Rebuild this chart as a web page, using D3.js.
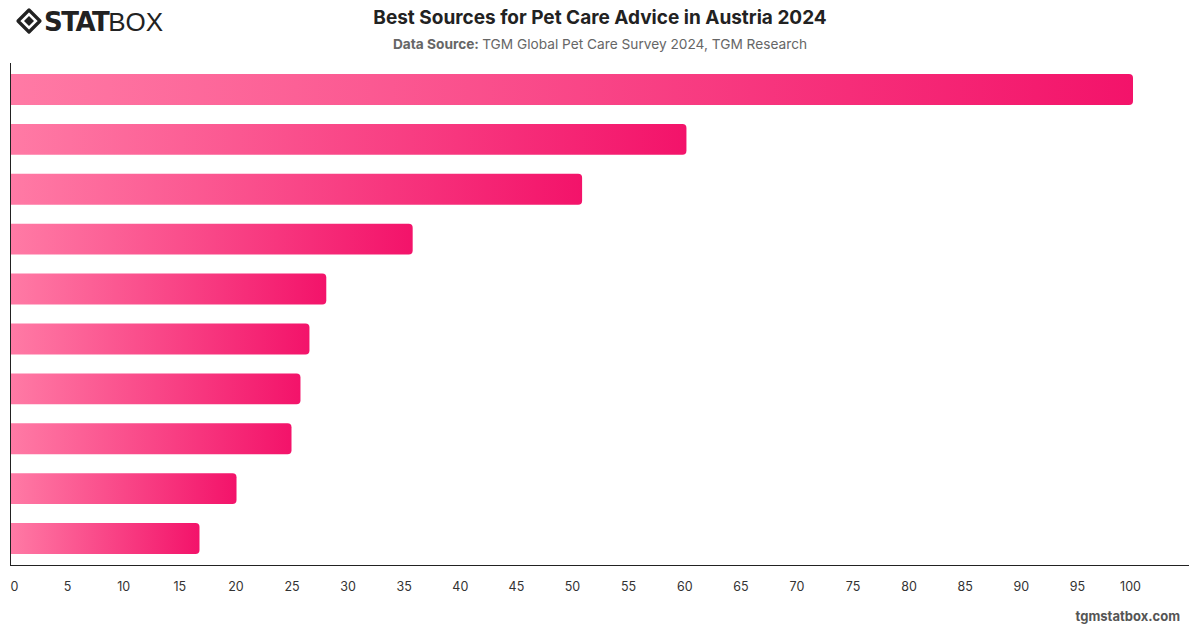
<!DOCTYPE html>
<html>
<head>
<meta charset="utf-8">
<script src="https://cdn.jsdelivr.net/npm/d3@7"></script>
<style>
  html, body { margin: 0; padding: 0; background: #fff; }
  svg { display: block; font-family: Inter, "Noto Sans", sans-serif; }
</style>
</head>
<body>
<svg id="chart" width="1200" height="628"></svg>
<script>
// Datos (las categorías no se muestran en la referencia)
const categories = [
  "Veterinarian", "Pet store staff", "Family and friends", "Websites",
  "Breeders", "Social media", "Pet magazines", "Online forums",
  "Animal shelters", "Other"
];
const values = [100, 60.2, 50.9, 35.8, 28.1, 26.6, 25.8, 25.0, 20.1, 16.8];
const tickValues = [0, 5, 10, 15, 20, 25, 30, 35, 40, 45, 50, 55, 60, 65, 70, 75, 80, 85, 90, 95, 100];

const width = 1200, height = 628;
const margin = { top: 63, right: 11, bottom: 63, left: 11 };

const svg = d3.select('#chart');

// Degradado de las barras
const defs = svg.append('defs');
const grad = defs.append('linearGradient')
  .attr('id', 'barGrad')
  .attr('x1', '0%').attr('x2', '100%').attr('y1', '0%').attr('y2', '0%');
grad.append('stop').attr('offset', '0%').attr('stop-color', '#ff7aa5');
grad.append('stop').attr('offset', '100%').attr('stop-color', '#f3136a');

const x = d3.scaleLinear()
  .domain([0, 100])
  .range([margin.left, 1133]);

const y = d3.scaleBand()
  .domain(categories)
  .range([margin.top, height - margin.bottom])
  .paddingInner(0.38)
  .paddingOuter(0.22);

// BARRAS (esquinas redondeadas solo a la derecha)
const r = 4;
svg.append('g')
  .selectAll('path')
  .data(values)
  .join('path')
  .attr('fill', 'url(#barGrad)')
  .attr('d', (d, i) => {
    const x0 = x(0), x1 = x(d);
    const y0 = y(categories[i]), h = y.bandwidth();
    return `M${x0},${y0}H${x1 - r}Q${x1},${y0} ${x1},${y0 + r}V${y0 + h - r}Q${x1},${y0 + h} ${x1 - r},${y0 + h}H${x0}Z`;
  });

// EJES
const axisY = height - margin.bottom;
svg.append('line')
  .attr('x1', 10.5).attr('x2', 10.5)
  .attr('y1', margin.top).attr('y2', axisY)
  .attr('stroke', '#222').attr('stroke-width', 1);
svg.append('line')
  .attr('x1', 10).attr('x2', width - margin.right)
  .attr('y1', axisY + 0.5).attr('y2', axisY + 0.5)
  .attr('stroke', '#222').attr('stroke-width', 1);

const xAxis = svg.append('g')
  .attr('transform', `translate(0, ${axisY})`)
  .call(d3.axisBottom(x).tickValues(tickValues).tickSize(0).tickPadding(17));
xAxis.select('.domain').remove();
xAxis.selectAll('text')
  .attr('font-family', 'Inter, "Noto Sans", sans-serif')
  .attr('font-size', 12.5)
  .attr('fill', '#333')
  .attr('dx', (d) => d === 0 ? 3 : (d === 100 ? -3 : 0));

// TÍTULO
svg.append('text')
  .attr('x', 600).attr('y', 24)
  .attr('text-anchor', 'middle')
  .attr('font-size', 19)
  .attr('font-weight', 'bold')
  .attr('fill', '#222')
  .text('Best Sources for Pet Care Advice in Austria 2024');

const sub = svg.append('text')
  .attr('x', 600).attr('y', 49)
  .attr('text-anchor', 'middle')
  .attr('font-size', 13.7)
  .attr('fill', '#666');
sub.append('tspan').attr('font-weight', 'bold').text('Data Source: ');
sub.append('tspan').text('TGM Global Pet Care Survey 2024, TGM Research');

// LOGO
const logo = svg.append('g').attr('transform', 'translate(29, 21)');
logo.append('path')
  .attr('d', 'M0,-11 L11,0 L0,11 L-11,0 Z')
  .attr('fill', 'none').attr('stroke', '#222').attr('stroke-width', 3.2)
  .attr('stroke-linejoin', 'round');
logo.append('path')
  .attr('d', 'M0,-5 L5,0 L0,5 L-5,0 Z')
  .attr('fill', '#222');
const logoText = svg.append('text')
  .attr('x', 44).attr('y', 31)
  .attr('font-size', 26)
  .attr('fill', '#222');
logoText.append('tspan')
  .attr('font-family', '"DejaVu Sans", sans-serif')
  .attr('font-weight', 900)
  .attr('letter-spacing', -1.5)
  .text('STAT');
logoText.append('tspan')
  .attr('font-family', '"Liberation Sans", sans-serif')
  .attr('font-weight', 300)
  .text('BOX');

// MARCA DE AGUA
svg.append('text')
  .attr('x', 1180).attr('y', 621)
  .attr('text-anchor', 'end')
  .attr('font-size', 13)
  .attr('font-weight', 'bold')
  .attr('fill', '#555')
  .text('tgmstatbox.com');
</script>
</body>
</html>
